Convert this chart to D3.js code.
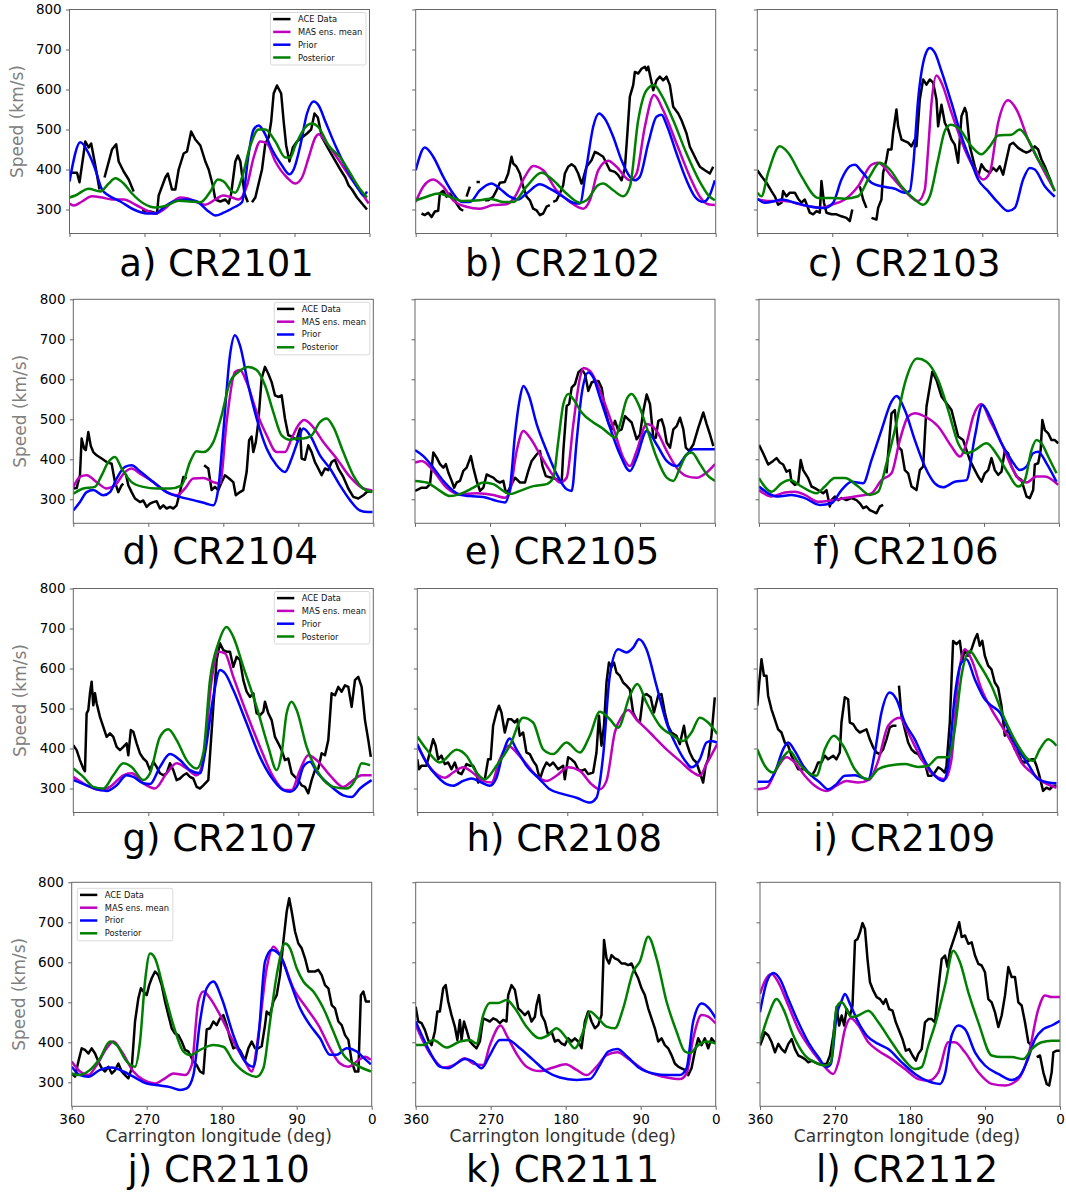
<!DOCTYPE html>
<html><head><meta charset="utf-8">
<script src="https://cdn.jsdelivr.net/npm/d3@7"></script>
<style>body{margin:0;background:#fff;} svg{display:block;font-family:"DejaVu Sans",sans-serif;}</style>
</head><body><svg id="chart" width="1066" height="1194"></svg>
<script>
// ---------------- DATA: [Carrington longitude (deg), speed (km/s)], null = data gap ----------------
const aceA = [[360,392],[351,392],[348,368],[343,440],[341,470],[337,455],[334,465],[329,410],[324,350],null,[318,380],[309,450],[304,463],[301,420],[295,395],[289,375],[283,345],null,[273,298],[263,295],[255,290],[253,335],[245,380],[242,390],[237,350],[233,350],[229,400],[223,440],[219,445],[214,495],[209,475],[203,460],[197,420],[193,400],[188,360],[185,325],[179,320],[173,325],[169,315],[166,340],[161,420],[158,435],[155,420],[150,340],[146,318],null,[141,318],[137,330],[133,365],[129,400],[125,465],[121,480],[118,520],[115,590],[111,610],[106,590],[103,520],[100,460],[96,420],[92,455],[87,470],[81,480],[75,490],[70,500],[66,540],[62,530],[57,480],[49,450],[35,400],[29,380],[25,360],[21,350],[15,330],[7,310],[3,300]];
const masA = [[360,315],[355,310],[345,320],[333,333],[321,330],[309,325],[295,325],[279,310],[265,295],[257,290],[247,300],[237,318],[227,330],[219,328],[207,318],[197,312],[185,325],[176,335],[165,330],[157,325],[147,360],[139,430],[131,470],[123,465],[113,420],[99,380],[89,365],[81,380],[73,430],[65,480],[61,488],[53,470],[39,430],[23,380],[9,340],[1,315]];
const priorA = [[360,370],[347,468],[337,440],[329,400],[321,350],[313,335],[299,320],[283,300],[267,290],[257,290],[247,305],[235,320],[219,325],[207,320],[193,295],[185,285],[175,292],[163,305],[153,318],[145,440],[139,500],[133,510],[127,495],[117,450],[105,410],[96,388],[91,400],[83,460],[75,540],[67,570],[61,560],[53,520],[41,460],[27,400],[13,350],[7,335],[3,345]];
const postA = [[360,330],[353,335],[337,352],[323,345],[313,365],[305,378],[295,365],[285,340],[271,315],[257,305],[243,310],[229,322],[215,320],[203,318],[191,345],[182,375],[175,370],[165,345],[161,342],[153,380],[143,460],[133,500],[125,500],[113,470],[101,430],[95,430],[89,460],[75,510],[69,515],[61,505],[49,460],[35,430],[23,390],[11,350],[3,330]];

const aceB = [[353,290],[349,286],[345,292],[341,281],[337,295],[333,297],[331,340],[327,347],[323,332],[319,340],[315,328],[311,315],[307,302],[303,297],null,[299,332],[295,357],null,[287,369],[283,369],null,[277,323],[273,323],[267,332],[263,348],[259,367],[253,369],[249,390],[245,432],[243,415],[239,407],[235,390],[231,357],[227,332],[223,323],[219,302],[215,298],[211,286],[207,290],[203,307],[199,311],null,[195,319],[191,323],[187,340],[183,361],[181,390],[177,407],[173,413],[169,407],[165,390],[161,365],[159,377],[155,407],[149,423],[145,444],[141,440],[135,432],[131,415],[127,398],[121,394],[117,386],[113,373],[109,403],[106,490],[103,582],[99,611],[97,644],[93,640],[89,652],[85,657],[83,648],[81,657],[77,619],[75,598],[71,623],[67,632],[63,623],[59,632],[55,611],[51,557],[45,540],[41,523],[35,490],[31,457],[27,440],[23,423],[19,407],[13,398],[7,390],[3,407]];
const masB = [[360,319],[351,357],[339,375],[327,357],[315,323],[299,307],[283,302],[267,311],[251,313],[241,332],[229,382],[219,409],[207,398],[191,348],[175,319],[159,302],[151,323],[141,398],[129,422],[119,407],[103,373],[95,390],[85,507],[74,586],[63,548],[47,465],[31,382],[19,332],[9,313],[1,311]];
const priorB = [[360,398],[349,455],[339,432],[327,382],[315,340],[305,319],[295,319],[283,348],[269,365],[259,352],[247,332],[237,325],[227,340],[211,363],[199,352],[183,332],[171,317],[163,315],[155,407],[147,507],[140,540],[133,527],[123,482],[113,423],[103,382],[97,373],[91,382],[81,465],[71,532],[65,537],[59,512],[47,440],[35,373],[25,332],[15,319],[8,332],[1,373]];
const postB = [[360,323],[347,332],[333,340],[319,332],[303,321],[283,323],[271,327],[255,319],[243,319],[227,357],[209,392],[195,373],[179,340],[163,317],[155,323],[141,361],[135,365],[123,348],[111,333],[103,357],[93,523],[83,598],[74,611],[65,586],[51,523],[35,440],[19,369],[9,336],[1,323]];

const aceC = [[360,398],[355,383],[349,367],[343,346],[339,333],[335,312],[331,317],[329,346],[325,333],[321,342],[315,342],[311,327],[307,317],[303,325],[297,292],[293,288],[289,296],[285,292],[283,371],[280,317],[277,292],[271,288],[265,288],[259,283],[253,279],[249,271],[246,300],null,[237,358],[233,325],[229,304],null,[223,279],[217,275],[215,304],[211,325],[209,392],[205,425],[203,450],[199,450],[197,492],[193,550],[191,508],[187,475],[183,471],[179,467],[175,458],[171,475],[169,458],[165,575],[161,625],[157,612],[153,625],[149,617],[145,575],[143,508],[139,562],[135,517],[131,500],[127,475],[123,462],[119,417],[115,533],[111,554],[109,542],[105,458],[99,408],[95,383],[91,413],[87,400],[81,392],[77,404],[73,396],[69,408],[65,387],[61,425],[57,462],[53,467],[47,454],[41,446],[37,442],[33,446],[27,458],[23,450],[19,425],[15,408],[11,387],[7,367]];
const masC = [[360,325],[343,321],[327,321],[307,312],[283,304],[271,312],[255,325],[239,358],[223,412],[215,417],[199,383],[183,346],[167,321],[159,350],[155,450],[151,565],[145,635],[139,617],[127,542],[111,450],[99,400],[89,375],[81,392],[71,517],[59,573],[49,550],[35,475],[19,408],[3,346]];
const priorC = [[360,327],[351,317],[339,321],[331,325],[315,317],[295,307],[279,304],[269,317],[259,375],[249,408],[243,412],[235,396],[223,367],[211,358],[195,352],[183,342],[177,346],[173,408],[167,575],[159,683],[153,704],[147,692],[139,646],[127,567],[115,483],[103,417],[95,375],[83,346],[71,317],[59,296],[51,304],[41,375],[33,404],[27,400],[15,358],[3,332]];
const postC = [[360,342],[355,333],[347,392],[333,458],[323,442],[307,383],[287,329],[271,329],[255,327],[239,333],[225,383],[213,417],[201,400],[187,358],[171,325],[161,312],[153,333],[143,425],[135,496],[128,512],[117,500],[103,458],[91,438],[81,458],[71,485],[55,487],[45,500],[35,475],[23,425],[13,392],[3,346]];

const aceD = [[360,327],[356,328],[352,360],[350,452],[347,427],[345,423],[342,468],[339,433],[336,418],[332,410],[326,402],[320,393],[314,389],[310,343],[306,318],[302,335],[300,339],null,[297,364],[294,335],[290,318],[286,302],[280,293],[276,297],[272,281],[268,289],[264,293],[260,295],[256,277],[252,285],[248,277],[244,281],[240,277],[236,285],[232,318],[228,356],[224,352],null,[203,385],[198,377],[194,323],[190,331],[186,323],[182,343],[178,360],[173,352],[168,343],[165,310],[160,318],[156,323],[152,368],[149,448],[146,457],[144,418],[141,443],[138,493],[134,602],[130,631],[126,614],[122,593],[118,560],[114,556],[110,560],[106,502],[102,460],[98,457],[92,449],[88,477],[86,402],[82,399],[78,435],[74,418],[70,393],[66,377],[62,360],[58,377],[54,373],[50,393],[46,399],[42,377],[36,356],[30,327],[24,306],[18,302],[12,310],[6,322],[2,318]];
const masD = [[360,331],[352,356],[344,360],[332,343],[320,327],[310,335],[298,368],[290,377],[280,364],[264,343],[248,318],[236,310],[226,327],[216,352],[204,353],[192,343],[184,339],[176,493],[166,618],[160,623],[152,593],[140,518],[128,460],[116,418],[106,418],[98,452],[90,485],[83,498],[74,485],[60,443],[44,402],[28,356],[12,327],[1,322]];
const priorD = [[360,272],[352,293],[344,318],[336,323],[324,310],[316,318],[308,352],[298,381],[290,385],[280,370],[264,343],[248,318],[232,306],[216,298],[200,289],[192,285],[186,327],[180,468],[172,660],[166,710],[160,685],[150,585],[140,502],[128,427],[116,385],[106,368],[98,402],[90,449],[84,477],[76,460],[64,410],[52,377],[40,335],[28,298],[16,272],[6,268],[1,268]];
const postD = [[360,314],[348,327],[334,331],[326,360],[318,393],[310,406],[302,377],[290,343],[276,331],[260,327],[244,327],[230,335],[220,393],[212,420],[204,418],[192,443],[182,510],[172,593],[162,618],[150,631],[140,623],[130,585],[120,518],[110,460],[100,449],[92,452],[84,452],[74,460],[64,493],[56,502],[48,481],[36,418],[24,360],[12,327],[1,318]];

const aceE = [[360,321],[356,325],[352,329],[346,329],[342,338],[338,417],[334,404],[330,388],[326,379],[323,388],[320,367],[316,346],[313,329],[310,342],[306,346],[302,371],[298,379],[293,408],[290,379],[286,346],[282,321],[278,329],[274,362],[270,358],[266,354],[262,346],[258,342],[254,346],[251,317],[248,321],[244,338],[240,354],[234,342],[228,342],[224,371],[220,396],[214,412],[210,421],[207,383],[203,358],[196,354],[190,350],[184,342],[182,421],[178,533],[175,538],[172,579],[168,588],[164,617],[160,625],[156,613],[152,571],[148,592],[144,596],[140,596],[136,579],[132,525],[128,492],[124,475],[120,496],[116,471],[112,475],[108,508],[104,500],[100,492],[94,450],[90,462],[86,521],[82,562],[78,538],[74,454],[71,454],[68,496],[64,500],[61,479],[58,442],[54,429],[50,475],[46,483],[42,504],[38,475],[35,429],[31,421],[26,437],[20,479],[14,517],[10,488],[6,462],[2,433]];
const masE = [[360,392],[352,396],[338,371],[322,329],[306,313],[286,315],[266,311],[252,304],[246,321],[238,421],[230,471],[222,454],[210,412],[198,371],[186,342],[178,354],[170,488],[162,604],[158,628],[150,621],[138,571],[122,479],[110,404],[102,383],[94,421],[82,488],[70,471],[58,421],[46,379],[34,358],[22,354],[10,367],[0,388]];
const priorE = [[360,423],[350,408],[338,379],[326,346],[314,321],[306,311],[294,308],[278,306],[262,296],[252,292],[246,329],[240,462],[234,554],[230,583],[224,563],[214,488],[202,421],[190,363],[178,325],[172,321],[166,446],[160,563],[152,617],[146,604],[138,554],[126,479],[114,412],[102,371],[94,404],[82,471],[70,437],[58,396],[46,383],[34,412],[26,425],[14,425],[0,425]];
const postE = [[360,346],[346,342],[330,321],[318,308],[306,313],[290,329],[278,342],[266,338],[254,321],[246,313],[234,321],[218,333],[202,338],[194,354],[188,446],[182,538],[176,563],[170,550],[160,517],[146,492],[136,479],[126,462],[120,454],[114,488],[106,550],[100,563],[92,538],[82,479],[70,404],[58,354],[50,346],[42,379],[34,412],[28,417],[18,388],[8,358],[0,346]];

const aceF = [[360,436],[355,415],[349,387],[343,396],[339,403],[335,392],[331,387],[327,369],[323,373],[321,344],[317,336],[313,340],[310,398],[307,373],[301,353],[297,332],[293,328],[289,323],[283,315],[279,323],[275,282],[273,298],[269,307],[265,298],[261,303],[255,298],[249,303],[243,298],[239,290],[235,278],[231,282],[227,273],[223,269],[219,265],[215,282],[211,286],null,[207,365],[201,515],[197,523],[193,432],[189,423],[185,373],[181,365],[177,332],[171,323],[167,373],[163,382],[159,532],[155,582],[152,619],[147,598],[141,557],[135,540],[129,523],[125,490],[121,457],[115,448],[111,423],[107,398],[101,373],[97,357],[93,344],[89,365],[85,373],[81,403],[77,373],[73,361],[69,369],[65,423],[61,415],[57,382],[51,357],[45,348],[39,307],[35,303],[31,323],[29,387],[25,390],[22,423],[20,498],[17,473],[13,465],[9,448],[5,448],[1,440]];
const masF = [[360,323],[345,307],[329,317],[317,319],[305,311],[289,294],[273,297],[257,303],[241,308],[225,315],[213,348],[201,365],[191,448],[181,507],[173,515],[161,507],[145,482],[129,432],[119,407],[111,440],[103,507],[93,538],[83,498],[69,440],[57,382],[47,348],[39,342],[27,357],[17,357],[1,336]];
const priorF = [[360,332],[349,315],[337,307],[321,311],[305,303],[287,286],[273,290],[261,323],[249,344],[235,340],[225,398],[213,473],[201,544],[195,558],[185,523],[173,448],[161,382],[149,340],[139,330],[125,344],[111,348],[101,457],[92,536],[83,507],[69,440],[57,398],[47,373],[39,382],[31,415],[25,419],[15,390],[3,344]];
const postF = [[360,353],[345,319],[333,340],[323,348],[309,332],[291,315],[281,332],[269,353],[257,353],[241,332],[227,311],[217,319],[207,390],[197,473],[185,590],[170,652],[159,644],[145,598],[133,523],[121,440],[111,415],[101,423],[87,440],[73,407],[61,365],[49,332],[41,348],[33,423],[27,448],[21,440],[13,407],[3,365]];

const aceG = [[360,408],[356,396],[352,371],[348,350],[346,343],[344,488],[342,496],[340,538],[338,567],[336,508],[334,538],[332,513],[328,479],[324,454],[320,429],[316,438],[312,429],[308,404],[304,396],[300,404],[296,413],[294,383],[291,446],[288,442],[284,413],[280,388],[276,375],[272,367],[268,346],[264,367],[260,354],[256,338],[252,333],[248,338],[244,363],[240,346],[236,321],[232,325],[228,333],[224,338],[220,329],[216,325],[212,304],[208,300],[204,308],[198,321],[192,504],[188,621],[184,663],[180,646],[176,642],[172,642],[168,604],[164,629],[160,621],[156,571],[152,542],[148,529],[144,538],[140,488],[136,483],[132,492],[130,517],[126,488],[122,471],[118,429],[114,413],[110,396],[106,371],[102,375],[98,338],[94,329],[90,321],[86,308],[82,304],[78,288],[74,321],[70,346],[66,350],[62,388],[58,383],[54,421],[50,538],[46,533],[42,554],[38,542],[34,558],[30,554],[26,504],[22,571],[18,579],[14,554],[10,471],[6,421],[3,379]];
const masG = [[360,329],[344,308],[328,296],[316,304],[300,333],[290,338],[276,313],[262,300],[248,338],[236,363],[224,350],[212,333],[204,371],[194,571],[186,642],[178,638],[168,579],[152,488],[136,404],[120,329],[106,296],[98,296],[88,346],[78,383],[68,371],[52,333],[36,304],[24,321],[14,333],[2,333]];
const priorG = [[360,321],[344,308],[328,296],[320,294],[308,308],[296,333],[288,329],[276,313],[268,311],[256,354],[244,386],[232,371],[220,346],[208,338],[202,388],[192,529],[184,596],[178,588],[168,546],[152,463],[136,379],[120,321],[108,296],[100,292],[92,304],[84,354],[76,367],[68,342],[52,308],[36,283],[26,279],[16,300],[2,321]];
const postG = [[360,350],[348,329],[336,304],[324,300],[312,333],[300,363],[290,354],[276,321],[268,338],[256,429],[246,448],[236,421],[224,371],[212,350],[204,388],[196,571],[186,663],[176,704],[168,679],[156,604],[140,504],[126,404],[116,346],[110,388],[104,488],[98,517],[92,496],[80,404],[64,333],[48,304],[32,300],[22,321],[14,363],[4,358]];

const aceH = [[360,373],[358,348],[355,357],[349,357],[345,390],[341,423],[338,407],[335,373],[331,382],[327,361],[323,365],[319,348],[315,365],[311,340],[307,336],[301,361],[297,357],[293,357],[289,340],[287,315],[283,323],[279,323],[275,373],[272,373],[269,457],[265,490],[262,507],[259,490],[255,440],[251,473],[247,473],[243,465],[240,473],[237,432],[233,440],[229,390],[225,386],[221,369],[217,357],[213,323],[209,348],[205,365],[201,357],[197,365],[191,348],[185,357],[183,323],[179,378],[175,373],[171,365],[167,348],[163,344],[159,348],[155,336],[149,340],[145,390],[142,482],[139,407],[136,457],[133,565],[130,615],[127,604],[124,615],[121,590],[117,582],[113,565],[109,557],[105,548],[101,490],[97,473],[93,465],[89,532],[85,536],[80,528],[76,490],[71,532],[67,536],[63,490],[59,457],[55,440],[49,432],[45,411],[40,457],[37,415],[33,390],[29,373],[25,365],[21,340],[17,315],[14,357],[11,373],[7,432],[3,528]];
const masH = [[360,408],[349,365],[337,336],[327,327],[317,340],[305,353],[295,342],[281,319],[271,315],[261,373],[251,407],[241,390],[229,361],[217,332],[205,319],[193,332],[179,353],[165,344],[151,311],[141,298],[133,319],[123,440],[114,482],[107,496],[97,473],[81,440],[61,398],[45,369],[29,340],[21,332],[13,361],[0,411]];
const priorH = [[360,411],[349,365],[337,332],[325,311],[317,307],[305,319],[295,325],[283,315],[273,307],[265,327],[257,390],[249,425],[241,398],[229,357],[213,323],[201,298],[185,286],[169,277],[153,265],[145,277],[137,382],[129,582],[119,648],[109,640],[101,652],[94,673],[85,648],[73,557],[61,465],[49,407],[37,365],[31,353],[21,373],[13,415],[7,419],[0,415]];
const postH = [[360,430],[349,398],[333,365],[313,397],[301,382],[289,340],[279,323],[265,357],[249,407],[233,477],[221,465],[209,398],[197,386],[181,415],[165,390],[153,432],[141,492],[129,473],[119,452],[105,532],[96,561],[85,515],[69,457],[53,432],[41,419],[31,440],[21,477],[11,465],[0,436]];

const aceI = [[360,507],[358,557],[355,623],[352,582],[349,582],[347,532],[343,498],[339,473],[335,448],[331,440],[327,415],[323,407],[319,382],[315,365],[311,348],[307,348],[303,348],[299,340],[295,332],[291,344],[287,365],[283,365],[279,382],[275,373],[269,382],[265,373],[261,390],[259,465],[255,528],[251,523],[249,465],[245,461],[241,448],[237,440],[233,444],[229,448],[225,423],[221,403],[217,390],[213,386],[209,398],[205,423],[201,453],[197,457],[193,457],null,[190,557],[187,482],[183,448],[179,415],[175,398],[171,390],[167,386],[163,373],[159,365],[155,332],[151,332],[147,340],[143,353],[139,348],[135,340],[133,357],[129,465],[125,669],[121,661],[117,669],[114,623],[111,644],[107,632],[103,648],[99,673],[96,686],[93,657],[90,669],[87,632],[83,607],[79,598],[75,565],[71,552],[67,507],[63,432],[59,448],[55,423],[51,398],[47,390],[43,369],[39,365],[35,369],[31,373],[28,373],[25,357],[22,336],[17,294],[13,302],[9,298],[5,307],[1,307]];
const masI = [[360,298],[349,302],[337,348],[325,378],[315,365],[303,332],[291,307],[277,294],[265,307],[253,319],[239,315],[225,323],[215,369],[203,457],[189,477],[179,440],[167,390],[155,348],[143,327],[135,323],[127,373],[119,573],[111,648],[103,623],[91,548],[79,498],[67,457],[55,415],[43,365],[31,340],[19,319],[1,302]];
const priorI = [[360,317],[347,317],[339,340],[329,398],[323,415],[315,394],[305,357],[295,332],[285,315],[275,298],[265,311],[255,332],[243,333],[227,323],[219,390],[211,490],[201,540],[193,523],[183,465],[171,423],[159,369],[147,332],[137,319],[131,357],[123,532],[115,615],[109,623],[99,573],[87,523],[79,507],[69,490],[59,448],[47,398],[35,361],[23,323],[11,315],[1,313]];
const postI = [[360,398],[351,357],[341,340],[331,373],[321,394],[311,365],[299,340],[289,332],[279,398],[268,432],[257,407],[243,348],[227,323],[215,348],[203,357],[183,361],[167,354],[155,357],[143,378],[131,378],[123,448],[115,582],[105,644],[95,615],[79,557],[63,473],[47,407],[35,373],[29,369],[21,398],[11,423],[1,407]];

const aceJ = [[360,322],[356,314],[352,352],[348,385],[344,381],[340,372],[336,385],[332,372],[328,352],[324,335],[320,327],[316,339],[312,322],[308,330],[304,347],[300,327],[296,318],[292,310],[288,335],[284,452],[280,510],[277,535],[274,527],[270,518],[267,543],[264,560],[260,577],[256,568],[252,543],[248,502],[244,468],[240,435],[236,422],[232,418],[228,402],[224,381],[220,377],[214,352],[210,343],[206,327],[202,322],[198,432],[194,435],[190,452],[186,443],[182,460],[178,468],[174,443],[170,410],[166,385],[162,389],[158,380],[152,355],[148,385],[144,402],[140,385],[136,385],[132,390],[128,443],[126,477],[122,468],[118,502],[114,518],[110,568],[106,652],[102,727],[99,760],[96,727],[92,677],[88,647],[84,635],[80,610],[76,577],[72,577],[68,577],[64,581],[60,568],[56,543],[52,535],[48,493],[44,485],[40,452],[36,443],[32,418],[28,406],[24,352],[20,327],[16,327],[13,518],[10,527],[7,502],[2,502]];
const masJ = [[360,352],[350,327],[340,318],[330,343],[318,385],[310,402],[300,377],[286,327],[274,306],[260,297],[248,310],[238,322],[224,318],[216,343],[208,502],[202,527],[194,510],[182,468],[166,402],[152,352],[144,327],[136,418],[126,585],[118,639],[108,610],[94,535],[78,485],[64,443],[50,385],[38,347],[28,339],[18,352],[8,364],[1,356]];
const priorJ = [[360,339],[350,318],[340,314],[326,331],[312,337],[298,327],[286,314],[270,297],[254,292],[242,288],[230,281],[222,285],[214,318],[206,452],[198,535],[190,552],[180,510],[166,418],[152,352],[142,339],[136,410],[128,602],[120,631],[110,618],[98,552],[86,485],[74,443],[62,410],[50,369],[42,369],[30,385],[18,377],[8,358],[1,345]];
const postJ = [[360,322],[352,318],[338,331],[326,360],[314,402],[306,393],[294,352],[284,339],[278,402],[272,552],[266,622],[260,610],[250,535],[238,443],[226,377],[218,368],[206,381],[190,393],[178,389],[166,352],[150,322],[138,314],[130,335],[122,452],[114,568],[104,647],[98,635],[90,585],[82,552],[70,527],[58,485],[46,427],[34,369],[18,343],[1,327]];

const aceK = [[360,489],[357,452],[353,448],[349,431],[345,406],[341,393],[337,427],[334,477],[331,477],[327,535],[324,543],[321,502],[317,468],[313,439],[310,406],[307,456],[305,406],[302,452],[299,431],[295,402],[291,393],[287,385],[283,402],[279,460],[275,456],[271,452],[267,460],[263,456],[259,448],[255,456],[251,452],[249,518],[245,543],[241,531],[237,485],[233,477],[229,468],[225,477],[221,452],[217,464],[215,493],[212,518],[209,468],[205,452],[201,418],[197,427],[193,402],[189,406],[185,397],[181,393],[177,410],[173,402],[169,410],[165,402],[161,385],[157,452],[153,477],[149,452],[145,435],[141,443],[137,468],[134,656],[131,610],[128,597],[125,618],[121,610],[117,606],[113,597],[109,597],[105,593],[101,597],[97,577],[93,560],[89,535],[85,518],[81,485],[77,460],[73,435],[69,402],[65,410],[61,393],[57,385],[53,368],[49,347],[45,339],[41,335],[37,331],[33,318],[29,335],[25,377],[21,410],[17,393],[13,410],[9,385],[5,410],[0,397]];
const masK = [[360,443],[351,402],[339,360],[327,337],[315,342],[301,360],[291,347],[279,343],[271,393],[258,442],[251,418],[238,368],[227,339],[211,328],[195,337],[180,345],[167,331],[155,318],[143,339],[131,368],[118,375],[103,356],[83,327],[63,314],[43,308],[35,322],[27,410],[17,468],[9,464],[0,447]];
const priorK = [[360,452],[351,410],[341,368],[331,339],[321,335],[311,347],[301,358],[291,352],[281,335],[271,368],[259,406],[249,406],[235,385],[219,356],[203,327],[187,312],[167,306],[151,308],[139,343],[129,377],[118,383],[106,364],[91,335],[75,322],[58,318],[43,318],[35,335],[27,452],[17,497],[8,485],[0,460]];
const postK = [[360,393],[351,393],[339,406],[323,387],[307,402],[295,406],[287,397],[279,468],[271,498],[261,498],[251,506],[241,485],[227,439],[211,410],[201,418],[191,435],[179,410],[169,385],[159,427],[151,477],[141,460],[131,439],[121,435],[111,485],[99,577],[91,602],[81,664],[71,610],[59,502],[47,427],[37,377],[31,373],[21,393],[11,402],[0,397]];

const aceL = [[360,392],[357,408],[354,425],[350,417],[346,400],[342,375],[338,396],[334,383],[330,375],[326,396],[322,408],[318,383],[314,367],[310,363],[306,358],[302,350],[298,354],[294,350],[290,346],[286,346],[280,346],[276,367],[272,417],[268,488],[265,442],[262,467],[259,442],[256,483],[252,467],[249,492],[246,654],[243,658],[240,675],[237,698],[234,683],[231,608],[228,550],[224,529],[220,513],[216,508],[212,496],[209,508],[205,483],[201,479],[197,450],[193,429],[189,408],[185,379],[181,383],[177,367],[173,354],[170,371],[166,383],[162,450],[158,458],[154,458],[150,450],[146,533],[142,608],[138,617],[135,588],[132,629],[128,654],[124,679],[121,700],[118,663],[114,667],[110,646],[106,650],[102,617],[98,596],[94,592],[90,575],[86,508],[82,500],[78,475],[74,438],[70,467],[66,517],[62,588],[58,563],[54,563],[50,500],[46,492],[42,450],[38,400],[34,392],null,[28,363],[24,367],[20,325],[16,296],[13,292],[10,325],[8,375],[4,379],[0,379]];
const masL = [[360,521],[354,554],[346,571],[338,550],[326,492],[314,433],[302,392],[290,358],[280,333],[272,321],[266,350],[258,433],[251,460],[242,442],[230,400],[218,379],[202,358],[186,333],[170,308],[158,304],[146,325],[134,400],[126,400],[114,375],[98,325],[82,296],[66,292],[50,308],[38,367],[26,483],[18,517],[10,513],[0,513]];
const priorL = [[360,475],[352,550],[344,573],[336,558],[326,508],[314,450],[302,400],[290,363],[280,338],[275,346],[268,467],[262,504],[258,521],[252,496],[242,450],[232,417],[218,396],[206,383],[190,350],[174,321],[160,304],[144,296],[138,321],[130,417],[122,442],[114,433],[102,375],[90,342],[74,321],[58,306],[48,317],[40,350],[30,408],[20,433],[10,442],[0,454]];
const postL = [[360,402],[350,467],[340,508],[332,483],[320,417],[306,367],[294,350],[282,342],[275,350],[268,488],[262,500],[250,463],[242,467],[230,479],[218,450],[202,400],[186,354],[174,333],[166,338],[158,392],[148,458],[138,542],[128,629],[120,600],[110,525],[98,450],[82,367],[70,363],[58,363],[44,358],[34,383],[22,400],[10,404],[0,404]];

const panelTitles = ["a) CR2101","b) CR2102","c) CR2103","d) CR2104","e) CR2105","f) CR2106","g) CR2107","h) CR2108","i) CR2109","j) CR2110","k) CR2111","l) CR2112"];
const seriesNames = ["ACE Data","MAS ens. mean","Prior","Posterior"];
const seriesColors = ["#000000","#bf00bf","#0000ff","#008000"];
const yTickValues = [300,400,500,600,700,800];
const xTickValues = [360,270,180,90,0];
const yDomain = [240,800];
const xDomain = [360,0];

const panelSeries = [
  [aceA,masA,priorA,postA],[aceB,masB,priorB,postB],[aceC,masC,priorC,postC],
  [aceD,masD,priorD,postD],[aceE,masE,priorE,postE],[aceF,masF,priorF,postF],
  [aceG,masG,priorG,postG],[aceH,masH,priorH,postH],[aceI,masI,priorI,postI],
  [aceJ,masJ,priorJ,postJ],[aceK,masK,priorK,postK],[aceL,masL,priorL,postL]
];

// ---------------- LAYOUT ----------------
const colLeft = [[69.5,415.7,757.3],[73.3,415,759],[73.3,417.3,757.3],[71.7,415.7,760]];
const rowTop = [9.5,299.3,588.5,882.3];
const titleBase = [275.5,563.5,851,1182];
const W = 300, H = 224;
const legendAt = {0:"right",3:"right",6:"right",9:"left"};
const frameColor = "#666";

const svg = d3.select("#chart");
svg.append("rect").attr("width",1066).attr("height",1194).attr("fill","#fff");

panelSeries.forEach((series, i) => {
  const row = Math.floor(i/3), col = i%3;
  const left = colLeft[row][col], top = rowTop[row];
  const x = d3.scaleLinear().domain(xDomain).range([0,W]);
  const y = d3.scaleLinear().domain(yDomain).range([H,0]);
  const g = svg.append("g").attr("transform",`translate(${left},${top})`);

  const clipId = "clip"+i;
  g.append("clipPath").attr("id",clipId).append("rect").attr("width",W).attr("height",H);

  // axes
  const yAxis = d3.axisLeft(y).tickValues(yTickValues).tickSize(3.5).tickPadding(4.3)
      .tickFormat(col===0 ? d3.format("d") : () => "");
  const ya = g.append("g").call(yAxis);
  const xAxis = d3.axisBottom(x).tickValues(xTickValues).tickSize(3.5).tickPadding(5)
      .tickFormat(row===3 ? d3.format("d") : () => "");
  const xa = g.append("g").attr("transform",`translate(0,${H})`).call(xAxis);
  [ya,xa].forEach(a => {
    a.select(".domain").remove();
    a.selectAll(".tick line").attr("stroke",frameColor).attr("stroke-width",1);
    a.selectAll(".tick text").attr("fill","#000").style("font-size","13.5px").style("font-family","DejaVu Sans, sans-serif");
  });

  // lines
  const lg = g.append("g").attr("clip-path",`url(#${clipId})`);
  series.forEach((data, s) => {
    const line = d3.line()
      .defined(d => d !== null)
      .x(d => x(d[0])).y(d => y(d[1]))
      .curve(s === 0 ? d3.curveLinear : d3.curveMonotoneX);
    lg.append("path").datum(data).attr("d",line)
      .attr("fill","none").attr("stroke",seriesColors[s]).attr("stroke-width",2.5)
      .attr("stroke-linejoin","round").attr("stroke-linecap","butt");
  });

  // frame
  g.append("rect").attr("width",W).attr("height",H).attr("fill","none")
    .attr("stroke",frameColor).attr("stroke-width",1);

  // y label
  if (col === 0) {
    g.append("text").attr("transform",`translate(-53,${H/2}) rotate(-90)`)
      .attr("text-anchor","middle").attr("dominant-baseline","central")
      .attr("fill","#808080").style("font-size","17px").text("Speed (km/s)");
  }
  // x label
  if (row === 3) {
    g.append("text").attr("x",W/2-3).attr("y",H+35.5).attr("text-anchor","middle")
      .attr("fill","#333").style("font-size","17px").text("Carrington longitude (deg)");
  }
  // title
  svg.append("text").attr("x",left+W/2-3).attr("y",titleBase[row]).attr("text-anchor","middle")
    .attr("fill","#000").style("font-size","37px").text(panelTitles[i]);

  // legend
  if (legendAt[i]) {
    const lw = 95.5, lh = 52.5;
    const lx = legendAt[i] === "right" ? W - lw - 3.5 : 5.6;
    const ly = legendAt[i] === "right" ? 3 : 6;
    const leg = g.append("g").attr("transform",`translate(${lx},${ly})`);
    leg.append("rect").attr("width",lw).attr("height",lh).attr("rx",2)
      .attr("fill","#fff").attr("fill-opacity",0.85).attr("stroke","#cfcfcf").attr("stroke-width",0.8);
    seriesNames.forEach((name, s) => {
      const cy = 6.6 + s*12.8;
      leg.append("line").attr("x1",2.7).attr("x2",20).attr("y1",cy).attr("y2",cy)
        .attr("stroke",seriesColors[s]).attr("stroke-width",2.5);
      leg.append("text").attr("x",27.5).attr("y",cy).attr("dominant-baseline","central")
        .attr("fill","#111").style("font-size","8.3px").text(name);
    });
  }
});
</script>
</body></html>
